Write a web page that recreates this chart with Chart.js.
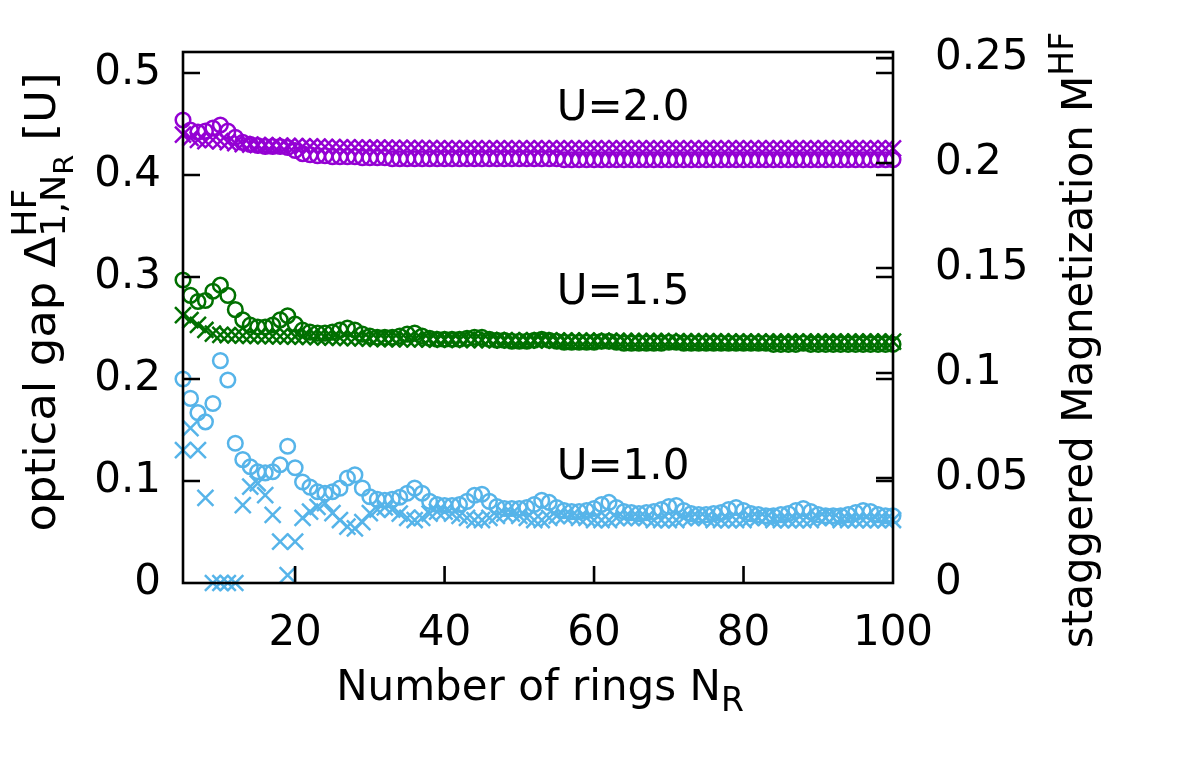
<!DOCTYPE html>
<html><head><meta charset="utf-8">
<script src="https://cdn.jsdelivr.net/npm/chart.js@4/dist/chart.umd.min.js"></script>
<style>html,body{margin:0;padding:0;background:#fff;}#wrap{width:1180px;height:767px;}</style>
</head><body><div id="wrap"><canvas id="c" width="1180" height="767"></canvas></div>
<script>
// ---- data ----
const ringsN = [5,6,7,8,9,10,11,12,13,14,15,16,17,18,19,20,21,22,23,24,25,26,27,28,29,30,
31,32,33,34,35,36,37,38,39,40,41,42,43,44,45,46,47,48,49,50,51,52,53,54,55,56,57,58,59,60,
61,62,63,64,65,66,67,68,69,70,71,72,73,74,75,76,77,78,79,80,81,82,83,84,85,86,87,88,89,90,
91,92,93,94,95,96,97,98,99,100];

// optical gap (left axis), circles
const gapU20 = [0.454,0.444,0.442,0.443,0.446,0.449,0.443,0.437,0.432,0.430,0.429,0.428,0.428,0.428,0.427,0.424,0.421,0.420,0.419,0.419,0.418,0.418,0.418,0.418,0.417,0.417,
0.417,0.417,0.416,0.416,0.416,0.416,0.416,0.416,0.416,0.416,0.416,0.416,0.416,0.416,0.416,0.416,0.416,0.416,0.416,0.416,0.416,0.416,0.416,0.416,0.416,0.415,0.415,0.415,0.415,0.415,
0.415,0.415,0.415,0.415,0.415,0.415,0.415,0.415,0.415,0.415,0.415,0.415,0.415,0.415,0.415,0.415,0.415,0.415,0.415,0.415,0.415,0.415,0.415,0.415,0.415,0.415,0.415,0.415,0.415,0.415,
0.415,0.415,0.415,0.415,0.415,0.415,0.415,0.415,0.415,0.415];
const gapU15 = [0.297,0.282,0.276,0.277,0.286,0.292,0.282,0.268,0.258,0.253,0.251,0.251,0.253,0.258,0.262,0.254,0.248,0.246,0.245,0.245,0.246,0.248,0.250,0.248,0.244,0.242,
0.241,0.241,0.241,0.242,0.244,0.245,0.242,0.240,0.239,0.239,0.239,0.239,0.240,0.241,0.241,0.239,0.238,0.238,0.237,0.237,0.237,0.238,0.239,0.238,0.237,0.236,0.236,0.236,0.236,0.236,
0.237,0.237,0.236,0.235,0.235,0.235,0.235,0.235,0.235,0.236,0.236,0.235,0.235,0.235,0.235,0.235,0.235,0.235,0.235,0.235,0.235,0.235,0.235,0.234,0.234,0.234,0.234,0.235,0.234,0.234,
0.234,0.234,0.234,0.234,0.234,0.234,0.234,0.234,0.234,0.234];
const gapU10 = [0.200,0.181,0.167,0.158,0.176,0.218,0.199,0.137,0.121,0.114,0.109,0.108,0.109,0.116,0.134,0.113,0.099,0.094,0.0895,0.088,0.0895,0.093,0.103,0.106,0.093,0.0846,
0.082,0.081,0.082,0.084,0.088,0.093,0.088,0.080,0.077,0.076,0.076,0.077,0.080,0.086,0.087,0.080,0.075,0.073,0.073,0.073,0.074,0.077,0.081,0.079,0.074,0.071,0.070,0.070,0.071,0.073,
0.077,0.079,0.074,0.070,0.069,0.068,0.069,0.070,0.072,0.075,0.076,0.071,0.068,0.067,0.067,0.068,0.069,0.072,0.074,0.071,0.068,0.067,0.066,0.066,0.067,0.068,0.071,0.073,0.070,0.067,
0.066,0.066,0.066,0.067,0.069,0.071,0.070,0.067,0.066,0.066];

// staggered magnetization (right axis), crosses
const magU20 = [0.2135,0.2120,0.2110,0.2105,0.2110,0.2105,0.2100,0.2095,0.2090,0.2088,0.2086,0.2085,0.2084,0.2083,0.2082,0.2081,0.2080,0.2079,0.2078,0.2077,0.2076,0.2075,0.2075,0.2074,0.2074,0.2073,
0.2073,0.2072,0.2072,0.2072,0.2071,0.2071,0.2071,0.2071,0.2070,0.2070,0.2070,0.2070,0.2070,0.2070,0.2070,0.2070,0.2070,0.2070,0.2070,0.2070,0.2070,0.2070,0.2070,0.2070,0.2070,0.2070,0.2070,0.2070,0.2070,0.2070,
0.2070,0.2070,0.2070,0.2070,0.2070,0.2070,0.2070,0.2070,0.2070,0.2070,0.2070,0.2070,0.2070,0.2070,0.2070,0.2070,0.2070,0.2070,0.2070,0.2070,0.2070,0.2070,0.2070,0.2070,0.2070,0.2070,0.2070,0.2070,0.2070,0.2070,
0.2070,0.2070,0.2070,0.2070,0.2070,0.2070,0.2070,0.2070,0.2070,0.2070];
const magU15 = [0.1276,0.1252,0.1229,0.1205,0.1188,0.1182,0.1180,0.1179,0.1178,0.1177,0.1177,0.1176,0.1176,0.1175,0.1175,0.1174,0.1173,0.1172,0.1171,0.1170,0.1169,0.1168,0.1167,0.1166,0.1165,0.1164,
0.1163,0.1162,0.1162,0.1161,0.1161,0.1160,0.1160,0.1160,0.1159,0.1159,0.1159,0.1158,0.1158,0.1158,0.1157,0.1157,0.1157,0.1156,0.1156,0.1156,0.1155,0.1155,0.1155,0.1155,0.1154,0.1154,0.1154,0.1154,0.1154,0.1153,
0.1153,0.1153,0.1153,0.1153,0.1152,0.1152,0.1152,0.1152,0.1152,0.1152,0.1151,0.1151,0.1151,0.1151,0.1151,0.1151,0.1151,0.1150,0.1150,0.1150,0.1150,0.1150,0.1150,0.1150,0.1150,0.1150,0.1150,0.1150,0.1150,0.1150,
0.1150,0.1150,0.1150,0.1150,0.1150,0.1150,0.1150,0.1150,0.1150,0.1150];
const magU10 = [0.0633,0.0738,0.0633,0.0405,0,0,0,0,0.0371,0.0459,0.0475,0.0419,0.0324,0.0197,0.0038,0.0197,0.031,0.034,0.0363,0.038,0.0333,0.030,0.0268,0.026,0.029,0.0333,
0.035,0.036,0.035,0.033,0.031,0.030,0.031,0.033,0.034,0.034,0.033,0.032,0.031,0.030,0.030,0.031,0.032,0.033,0.033,0.032,0.031,0.030,0.030,0.031,0.032,0.032,0.032,0.031,0.031,0.030,
0.030,0.030,0.031,0.031,0.031,0.031,0.031,0.030,0.030,0.030,0.030,0.031,0.031,0.031,0.031,0.030,0.030,0.030,0.030,0.030,0.031,0.031,0.031,0.030,0.030,0.030,0.030,0.030,0.030,0.031,
0.031,0.031,0.030,0.030,0.030,0.030,0.030,0.030,0.030,0.030];

// ticks
const xTicks = [20,40,60,80,100];
const xTickLabels = ['20','40','60','80','100'];
const yTicks = [0,0.1,0.2,0.3,0.4,0.5];
const yTickLabels = ['0','0.1','0.2','0.3','0.4','0.5'];
const y2Ticks = [0,0.05,0.1,0.15,0.2,0.25];
const y2TickLabels = ['0','0.05','0.1','0.15','0.2','0.25'];
const curveLabels = ['U=2.0','U=1.5','U=1.0'];
const curveLabelPos = [[55,0.454],[55,0.274],[55,0.102]];

// ---- style ----
const FONT = 'DejaVu Sans';
const FS = 42;
const colPurple = '#9400d3', colGreen = '#007000', colBlue = '#56b4e9';

function pts(arr){ return ringsN.map((n,i)=>({x:n,y:arr[i]})); }
function circ(arr,col){ return {data:pts(arr),yAxisID:'y',pointStyle:'circle',pointRadius:7.3,borderWidth:2.5,borderColor:col,backgroundColor:'rgba(0,0,0,0)',clip:false}; }
function cross(arr,col){ return {data:pts(arr),yAxisID:'y2',pointStyle:'crossRot',pointRadius:11.3,borderWidth:2.5,borderColor:col,backgroundColor:col,clip:false}; }

function drawRich(ctx, pieces, x, y, angle, stretch){
  ctx.save();
  ctx.fillStyle='#000';
  ctx.translate(x,y); ctx.rotate(angle); ctx.scale(stretch||1,1);
  ctx.textBaseline='alphabetic'; ctx.textAlign='left';
  let total=0;
  pieces.forEach(p=>{ ctx.font=p.s+'px "'+FONT+'"'; p.w=ctx.measureText(p.t).width; if(!p.stack) total+=p.w; });
  let cx=-total/2;
  pieces.forEach(p=>{ ctx.font=p.s+'px "'+FONT+'"'; ctx.fillText(p.t,cx,p.dy); if(!p.stack) cx+=p.w; });
  ctx.restore();
}

const decor = {
  id:'decor',
  afterDatasetsDraw(chart){
    const {ctx, chartArea:a, scales} = chart;
    ctx.save();
    ctx.strokeStyle='#000'; ctx.lineWidth=2.6;
    ctx.strokeRect(a.left,a.top,a.right-a.left,a.bottom-a.top);
    const TL=17;
    ctx.beginPath();
    xTicks.forEach(v=>{ const px=scales.x.getPixelForValue(v); if(px>a.right-1) return; ctx.moveTo(px,a.bottom); ctx.lineTo(px,a.bottom-TL); });
    yTicks.forEach(v=>{ if(v===0) return; const py=scales.y.getPixelForValue(v); ctx.moveTo(a.left,py); ctx.lineTo(a.left+TL,py); ctx.moveTo(a.right,py); ctx.lineTo(a.right-TL,py); });
    y2Ticks.forEach(v=>{ if(v===0) return; const py=scales.y2.getPixelForValue(v); ctx.moveTo(a.right,py); ctx.lineTo(a.right-TL,py); });
    ctx.stroke();
    ctx.fillStyle='#000';
    ctx.font=FS+'px "'+FONT+'"'; ctx.textAlign='left'; ctx.textBaseline='alphabetic';
    curveLabels.forEach((t,i)=>{ ctx.fillText(t, scales.x.getPixelForValue(curveLabelPos[i][0]), scales.y.getPixelForValue(curveLabelPos[i][1])); });
    ctx.restore();
    const s=FS, ss=Math.round(FS*0.8), sss=Math.round(FS*0.64);
    drawRich(ctx,[{t:'Number of rings N',s:s,dy:0},{t:'R',s:Math.round(FS*0.78),dy:11}], 540, 700, 0);
    drawRich(ctx,[{t:'optical gap Δ',s:s,dy:0},{t:'HF',s:ss,dy:-19,stack:true},{t:'1,N',s:ss,dy:10},{t:'R',s:sss,dy:18},{t:' [U]',s:s,dy:0}], 55, 302, -Math.PI/2, 1.07);
    drawRich(ctx,[{t:'staggered Magnetization M',s:s,dy:0},{t:'HF',s:Math.round(FS*0.78),dy:-19}], 1092, 340, -Math.PI/2);
  }
};

const tickFont = {family:FONT,size:FS};
function noPadV(s,w){ s.width=w; s.paddingTop=0; s.paddingBottom=0; }
new Chart(document.getElementById('c'),{
  type:'scatter',
  data:{datasets:[
    circ(gapU20,colPurple), cross(magU20,colPurple),
    circ(gapU15,colGreen), cross(magU15,colGreen),
    circ(gapU10,colBlue), cross(magU10,colBlue)
  ]},
  options:{
    responsive:false, animation:false, devicePixelRatio:1, events:[],
    layout:{padding:{top:52,left:0,right:0,bottom:0}},
    plugins:{legend:{display:false},tooltip:{enabled:false}},
    scales:{
      x:{type:'linear',min:5,max:100,grid:{display:false,drawTicks:false},border:{display:false},
         afterBuildTicks:s=>{s.ticks=xTicks.map(v=>({value:v}));},
         afterFit:s=>{s.height=184; s.paddingLeft=0; s.paddingRight=0;},
         ticks:{font:tickFont,color:'#000',padding:26,maxRotation:0,autoSkip:false,callback:(v,i)=>xTickLabels[i]}},
      y:{type:'linear',position:'left',min:0,max:0.5206,grid:{display:false,drawTicks:false},border:{display:false},
         afterBuildTicks:s=>{s.ticks=yTicks.map(v=>({value:v}));},
         afterFit:s=>noPadV(s,183),
         ticks:{font:tickFont,color:'#000',padding:22,callback:(v,i)=>yTickLabels[i]}},
      y2:{type:'linear',position:'right',min:0,max:0.2529,grid:{display:false,drawTicks:false},border:{display:false},
         afterBuildTicks:s=>{s.ticks=y2Ticks.map(v=>({value:v}));},
         afterFit:s=>noPadV(s,287),
         ticks:{font:tickFont,color:'#000',padding:42,callback:(v,i)=>y2TickLabels[i]}}
    }
  },
  plugins:[decor]
});
</script></body></html>
